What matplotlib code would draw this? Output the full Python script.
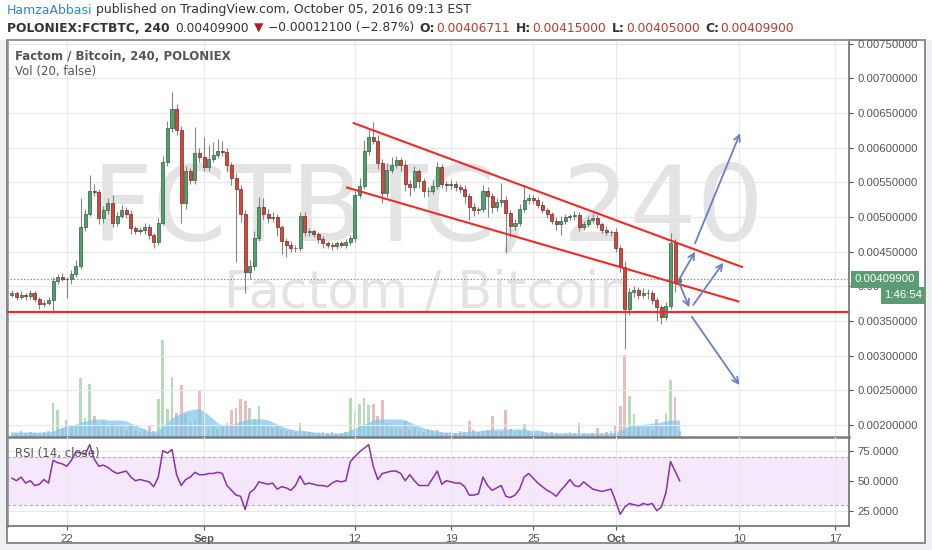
import matplotlib
matplotlib.use("Agg")
import matplotlib.pyplot as plt
from matplotlib.patches import Rectangle

plt.rcParams["font.family"] = ["Liberation Sans", "DejaVu Sans"]

W, H = 932, 550

# 8-hour bars from Aug 18 2016 00:00; x in days relative to Sep 1; prices in 1e-5 BTC
BAR_DAYS = 1 / 3
FIRST_DAY = -14
FIRST_OPEN = 388

CLOSE = [
    390, 385, 388, 386, 390, 382, 374, 376, 380, 408,
    414, 411, 410, 418, 430, 486, 505, 538, 536, 498,
    510, 520, 492, 502, 510, 504, 484, 480, 481, 486,
    474, 464, 492, 580, 628, 656, 625, 520, 566, 553,
    592, 586, 572, 584, 590, 596, 594, 575, 556, 540,
    505, 420, 430, 470, 515, 505, 498, 500, 485, 466,
    460, 456, 455, 502, 478, 480, 475, 468, 462, 460,
    458, 462, 460, 464, 470, 532, 545, 595, 615, 610,
    578, 535, 568, 575, 582, 575, 548, 543, 566, 552,
    537, 538, 545, 572, 548, 546, 548, 543, 540, 530,
    515, 510, 512, 538, 530, 514, 522, 525, 506, 487,
    492, 512, 524, 527, 525, 518, 510, 504, 495, 490,
    495, 500, 501, 503, 486, 490, 496, 499, 490, 482,
    478, 478, 455, 428, 368, 392, 395, 388, 390, 391,
    380, 370, 356, 372, 462, 406.711, 409.9,
]
UPPER_WICK = [
    5, 4, 6, 3, 5, 4, 3, 4, 5, 6,
    4, 5, 3, 6, 8, 41, 6, 23, 10, 5,
    6, 8, 12, 5, 7, 4, 6, 3, 4, 5,
    4, 3, 6, 8, 10, 24, 7, 6, 8, 5,
    38, 8, 30, 20, 18, 16, 14, 6, 5, 7,
    6, 5, 8, 10, 14, 12, 6, 8, 5, 4,
    4, 5, 3, 6, 5, 4, 3, 4, 5, 3,
    4, 3, 4, 5, 4, 6, 12, 16, 10, 22,
    8, 6, 10, 12, 6, 5, 8, 5, 7, 4,
    5, 6, 8, 7, 5, 4, 6, 4, 5, 6,
    4, 5, 3, 8, 5, 4, 6, 24, 5, 4,
    5, 7, 22, 6, 5, 4, 5, 3, 4, 5,
    6, 5, 4, 6, 5, 4, 5, 6, 4, 3,
    5, 4, 6, 4, 8, 5, 6, 4, 8, 5,
    4, 5, 3, 6, 15, 6, 5.1,
]
LOWER_WICK = [
    4, 5, 3, 6, 4, 5, 6, 4, 3, 18,
    5, 4, 27, 6, 4, 5, 6, 4, 5, 8,
    6, 5, 7, 5, 4, 6, 8, 5, 4, 6,
    5, 9, 5, 4, 6, 5, 6, 29, 8, 5,
    6, 7, 5, 6, 4, 5, 6, 8, 10, 105,
    12, 29, 10, 6, 5, 8, 6, 5, 12, 20,
    18, 6, 5, 4, 6, 5, 4, 5, 6, 4,
    5, 4, 3, 5, 4, 6, 5, 4, 6, 5,
    8, 14, 6, 5, 4, 8, 10, 12, 6, 10,
    8, 6, 5, 4, 6, 8, 5, 6, 5, 10,
    19, 8, 6, 5, 30, 8, 5, 6, 58, 16,
    6, 5, 4, 5, 6, 5, 4, 6, 5, 8,
    16, 5, 4, 5, 6, 4, 5, 4, 6, 5,
    4, 5, 6, 8, 59, 10, 8, 6, 5, 8,
    6, 20, 11, 5, 4, 15, 1.7,
]
VOLUME = [
    5, 4, 6, 4, 5, 4, 3, 5, 6, 34,
    27, 8, 17, 10, 12, 59, 19, 53, 21, 12,
    16, 9, 13, 8, 10, 7, 12, 6, 5, 8,
    11, 6, 38, 97, 28, 60, 24, 52, 23, 14,
    18, 47, 16, 9, 12, 8, 10, 14, 27, 29,
    38, 36, 29, 18, 31, 12, 10, 9, 12, 8,
    6, 7, 5, 14, 6, 5, 4, 4, 5, 4,
    5, 3, 4, 5, 39, 26, 33, 39, 32, 33,
    21, 37, 14, 10, 9, 8, 16, 7, 9, 6,
    5, 8, 6, 7, 5, 4, 5, 4, 6, 5,
    16, 7, 5, 6, 7, 21, 6, 5, 27, 8,
    6, 7, 13, 6, 5, 4, 5, 4, 5, 4,
    3, 4, 5, 4, 14, 4, 3, 4, 9, 4,
    5, 6, 12, 31, 82, 41, 23, 10, 8, 9,
    7, 18, 10, 24, 57, 40, 6,
]
VOLUME_MA = [
    5, 5, 5, 5, 5, 5, 5, 5, 5, 6,
    8, 10, 11, 12, 13, 15, 16, 17, 18, 18,
    18, 17, 17, 17, 17, 16, 14, 12, 10, 8,
    6, 5, 7, 11, 15, 19, 22, 24, 26, 27,
    28, 28, 26, 22, 18, 14, 12, 11, 12, 14,
    16, 17, 18, 18, 18, 18, 17, 15, 13, 11,
    9, 8, 7, 7, 6, 6, 5, 5, 4, 4,
    4, 4, 4, 5, 7, 9, 11, 13, 15, 17,
    18, 18, 18, 18, 18, 18, 17, 15, 13, 11,
    9, 8, 7, 6, 5, 5, 5, 4, 5, 5,
    6, 6, 6, 7, 7, 8, 8, 8, 8, 8,
    8, 8, 8, 7, 7, 7, 6, 5, 4, 4,
    4, 4, 4, 4, 4, 4, 4, 4, 4, 4,
    4, 4, 5, 7, 9, 11, 12, 12, 13, 13,
    14, 14, 15, 16, 17, 17, 17,
]
RSI = [
    52, 50, 53, 48, 50, 46, 47, 51, 48, 67,
    65, 64, 62, 67, 74, 73, 72, 80, 68, 62,
    63, 61, 58, 56, 57, 58, 53, 50, 51, 50,
    49, 45, 53, 75, 73, 76, 55, 46, 51, 53,
    57, 55, 55, 56, 56, 57, 56, 46, 42, 38,
    37, 26, 40, 43, 49, 48, 47, 48, 43, 45,
    44, 42, 46, 54, 47, 48, 47, 46, 46, 45,
    48, 50, 49, 50, 66, 70, 74, 77, 80, 62,
    51, 56, 57, 58, 58, 56, 50, 55, 50, 46,
    46, 46, 52, 58, 47, 50, 49, 48, 48, 45,
    38, 38, 39, 53, 46, 42, 44, 46, 37, 36,
    38, 43, 53, 56, 52, 48, 45, 42, 40, 37,
    42, 46, 51, 46, 45, 49, 46, 43, 42, 41,
    42, 43, 33, 22, 28, 31, 30, 29, 31, 30,
    31, 25, 28, 40, 66, 58, 50,
]

LAST_PRICE = 409.9
SUPPORT = 363.0
CHANNEL_UPPER = [(10.84, 636.1), (39.28, 427.5)]
CHANNEL_LOWER = [(10.35, 543.0), (39.02, 377.8)]
ARROWS = [
    ((34.64, 410.2), (35.79, 450.0)),
    ((34.69, 402.0), (35.37, 369.8)),
    ((35.66, 373.1), (37.85, 434.1)),
    ((35.79, 462.0), (39.07, 620.9)),
    ((35.55, 356.2), (39.02, 257.6)),
]

DATE_TICKS = [-10, 0, 11, 18, 24, 30, 39, 46]
DATE_LABELS = ["22", "Sep", "12", "19", "25", "Oct", "10", "17"]
MONTH_LABELS = {"Sep", "Oct"}
PRICE_TICKS = [0.0020, 0.0025, 0.0030, 0.0035, 0.0040, 0.0045, 0.0050,
               0.0055, 0.0060, 0.0065, 0.0070, 0.0075]
RSI_TICKS = [25, 50, 75]

UP_FACE, UP_EDGE = "#53a06f", "#2c5e3f"
DN_FACE, DN_EDGE = "#d4473a", "#6e2a22"
GRID = "#e8e8e8"
AXIS_TXT = "#555555"


def fx(px):
    return px / W


def fy(py):
    return 1 - py / H


def draw_runs(fig, x_px, y_px, runs, size):
    renderer = fig.canvas.get_renderer()
    x = x_px
    for text, weight, color, gap in runs:
        t = fig.text(fx(x), fy(y_px), text, fontsize=size, fontweight=weight,
                     color=color, va="center", ha="left",
                     family=["DejaVu Sans"])
        x += t.get_window_extent(renderer=renderer).width + gap


fig = plt.figure(figsize=(W / 100, H / 100), dpi=100, facecolor="#eef0f3")
fig.add_artist(Rectangle((0, fy(40)), 1, 1 - fy(40), transform=fig.transFigure,
                         facecolor="white", edgecolor="none", zorder=-5))
fig.add_artist(Rectangle((fx(7), fy(543)), fx(925) - fx(7), fy(40) - fy(543),
                         transform=fig.transFigure, facecolor="white",
                         edgecolor="#8c8c8c", linewidth=1.4, zorder=-4))

price_rect = [fx(7), fy(437), fx(849) - fx(7), fy(40) - fy(437)]
rsi_rect = [fx(7), fy(526), fx(849) - fx(7), fy(437) - fy(526)]
xlim = (-14.36, 47.01)

t = [FIRST_DAY + i * BAR_DAYS for i in range(len(CLOSE))]
opens = [FIRST_OPEN] + CLOSE[:-1]
up = [c >= o for o, c in zip(opens, CLOSE)]

# volume layer (behind the price layer)
vax = fig.add_axes(price_rect)
vax.set_axis_off()
vax.set_xlim(*xlim)
vax.set_ylim(0, 397)
vax.text(0.5, 0.494, "FCTBTC, 240", transform=vax.transAxes, ha="center",
         va="baseline", fontsize=76, color="#e3e3e3", family=["DejaVu Sans"], zorder=0)
vax.text(0.5, 0.327, "Factom / Bitcoin", transform=vax.transAxes, ha="center",
         va="baseline", fontsize=36.5, color="#e3e3e3", family=["DejaVu Sans"], zorder=0)
vax.bar(t, VOLUME, width=0.2, color=["#b4dcb6" if u else "#ebbdb8" for u in up],
        linewidth=0, zorder=1)
vax.fill_between(t, 0, VOLUME_MA, color="#80c4ee", alpha=0.7, linewidth=0, zorder=2)

# price layer
ax = fig.add_axes(price_rect, facecolor="none")
ax.set_xlim(*xlim)
ax.set_ylim(0.001826, 0.007555)
ax.set_axisbelow(True)
ax.grid(True, color=GRID, linewidth=0.8)

lows = [(min(o, c) - lw) * 1e-5 for o, c, lw in zip(opens, CLOSE, LOWER_WICK)]
highs = [(max(o, c) + hw) * 1e-5 for o, c, hw in zip(opens, CLOSE, UPPER_WICK)]
ax.vlines(t, lows, highs, color="#858585", linewidth=0.8, zorder=2)
bottoms = [min(o, c) * 1e-5 for o, c in zip(opens, CLOSE)]
heights = [max(abs(c - o), 0.6) * 1e-5 for o, c in zip(opens, CLOSE)]
ax.bar(t, heights, bottom=bottoms, width=0.22,
       color=[UP_FACE if u else DN_FACE for u in up],
       edgecolor=[UP_EDGE if u else DN_EDGE for u in up], linewidth=0.5, zorder=3)

ax.axhline(LAST_PRICE * 1e-5, color="#3d8c62", linestyle=(0, (1, 2)), linewidth=0.8, zorder=2)
ax.axhline(SUPPORT * 1e-5, color="#ee2a2a", linewidth=1.6, zorder=4)
for line in (CHANNEL_UPPER, CHANNEL_LOWER):
    ax.plot([p[0] for p in line], [p[1] * 1e-5 for p in line], color="#ee2a2a",
            linewidth=1.5, solid_capstyle="butt", zorder=4)
for (x0, y0), (x1, y1) in ARROWS:
    ax.annotate("", xy=(x1, y1 * 1e-5), xytext=(x0, y0 * 1e-5),
                arrowprops=dict(arrowstyle="->", color="#6a7fc7", lw=1.3,
                                mutation_scale=11, shrinkA=0, shrinkB=0), zorder=5)

ax.set_xticks(DATE_TICKS)
ax.tick_params(axis="x", length=0, labelbottom=False)
ax.yaxis.tick_right()
ax.set_yticks(PRICE_TICKS)
ax.set_yticklabels([f"{v:.8f}" for v in PRICE_TICKS])
ax.tick_params(axis="y", length=3, width=0.8, colors=AXIS_TXT, labelsize=8.2, pad=3)
for side, col, lw in (("left", "#8a8a8a", 1.8), ("top", "#9a9a9a", 1.2),
                      ("right", "#7a7a7a", 1.3), ("bottom", "#7a7a7a", 1.8)):
    ax.spines[side].set_color(col)
    ax.spines[side].set_linewidth(lw)

ax.annotate(f"{LAST_PRICE * 1e-5:.8f}", xy=(1, LAST_PRICE * 1e-5),
            xycoords=("axes fraction", "data"), xytext=(4.3, 0),
            textcoords="offset points", ha="left", va="center", fontsize=8.2,
            color="white", annotation_clip=False, zorder=6,
            bbox=dict(boxstyle="square,pad=0.32", fc="#5b9c74", ec="none"))
ax.annotate("1:46:54", xy=(1, LAST_PRICE * 1e-5),
            xycoords=("axes fraction", "data"), xytext=(52.5, -11.5),
            textcoords="offset points", ha="right", va="center", fontsize=8.2,
            color="white", annotation_clip=False, zorder=6,
            bbox=dict(boxstyle="square,pad=0.28", fc="#5b9c74", ec="none"))

# RSI pane
rax = fig.add_axes(rsi_rect, facecolor="none")
rax.set_xlim(*xlim)
rax.set_ylim(12.25, 86.4)
rax.set_axisbelow(True)
rax.grid(True, color=GRID, linewidth=0.8)
rax.axhspan(30, 70, color="#f5e8fc", zorder=0.5, linewidth=0)
for lvl in (30, 70):
    rax.axhline(lvl, color="#b8a8c2", linestyle=(0, (3, 2)), linewidth=0.8, zorder=1)
rax.plot(t, RSI, color="#8e2fab", linewidth=1.1, zorder=3)
rax.yaxis.tick_right()
rax.set_yticks(RSI_TICKS)
rax.set_yticklabels([f"{v:.4f}" for v in RSI_TICKS])
rax.set_xticks(DATE_TICKS)
rax.set_xticklabels(DATE_LABELS)
for lbl in rax.get_xticklabels():
    if lbl.get_text() in MONTH_LABELS:
        lbl.set_fontweight("bold")
rax.tick_params(axis="both", length=3, width=0.8, colors=AXIS_TXT, labelsize=8.2, pad=3)
rax.spines["top"].set_visible(False)
for side, col, lw in (("left", "#8a8a8a", 1.8), ("right", "#7a7a7a", 1.3),
                      ("bottom", "#7a7a7a", 1.3)):
    rax.spines[side].set_color(col)
    rax.spines[side].set_linewidth(lw)

# pane captions
fig.text(fx(15), fy(56), "Factom / Bitcoin, 240, POLONIEX", fontsize=8.5,
         fontweight="bold", color="#555555", va="center", family=["DejaVu Sans"])
fig.text(fx(15), fy(72), "Vol (20, false)", fontsize=8.5, color="#555555",
         va="center", family=["DejaVu Sans"])
fig.text(fx(15), fy(453), "RSI (14, close)", fontsize=8.5, color="#555555",
         va="center", family=["DejaVu Sans"], zorder=10)

# header
red = "#c0392b"
dark = "#333333"
draw_runs(fig, 7, 10, [
    ("HamzaAbbasi", "normal", "#2b8bc6", 4),
    ("published on TradingView.com, October 05, 2016 09:13 EST", "normal", dark, 0),
], 9.0)
draw_runs(fig, 7, 28, [
    ("POLONIEX:FCTBTC, 240", "bold", dark, 6),
    ("0.00409900", "normal", dark, 5),
    ("\u25bc", "normal", "#b01c1c", 4),
    ("\u22120.00012100 (\u22122.87%)", "normal", dark, 6),
    ("O:", "bold", dark, 1),
    ("0.00406711", "normal", red, 6),
    ("H:", "bold", dark, 1),
    ("0.00415000", "normal", red, 6),
    ("L:", "bold", dark, 1),
    ("0.00405000", "normal", red, 6),
    ("C:", "bold", dark, 1),
    ("0.00409900", "normal", red, 0),
], 8.85)

fig.savefig("out.png", dpi=100, facecolor=fig.get_facecolor())
